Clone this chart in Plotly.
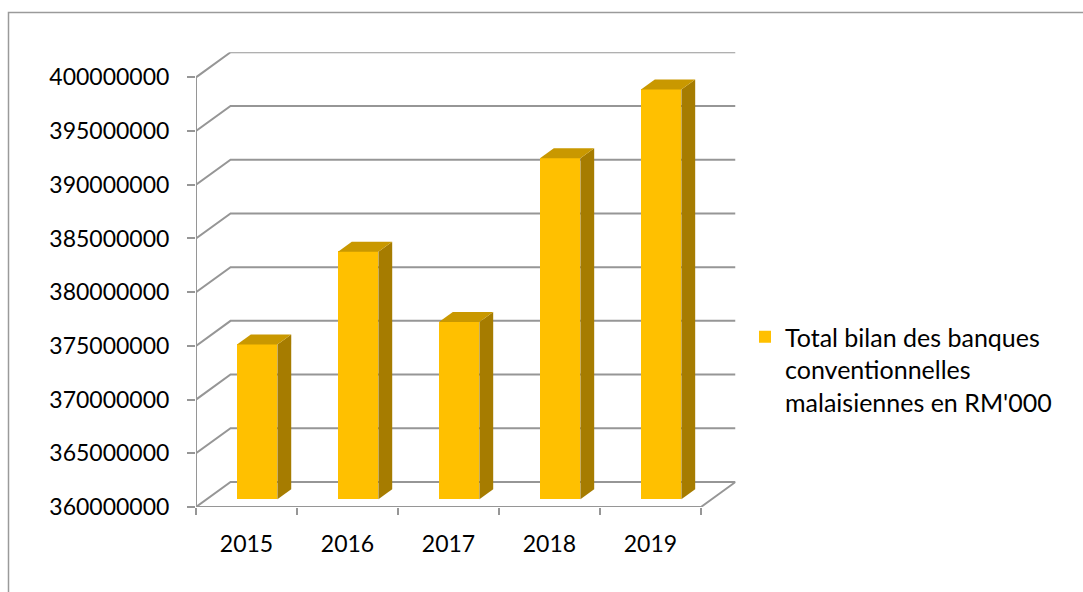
import plotly.graph_objects as go

# Data
years = ["2015", "2016", "2017", "2018", "2019"]
totals = [374.4e6, 383.05e6, 376.5e6, 391.75e6, 398.15e6]
y_ticks = [360e6 + 5e6 * k for k in range(9)]
series_name = "Total bilan des banques<br>conventionnelles<br>malaisiennes en RM'000"

# Oblique "3D" geometry (depth offset in axis units)
DX = 0.342          # horizontal shift of back wall, in category units
DY = 2.33e6         # vertical shift of back wall, in value units
F0, F1 = 0.31, 0.71  # depth fractions of bar front / back faces
BW = 0.40           # bar width in category units
BASE = 360e6
N = len(years)

FRONT = "#FFC000"
SIDE = "#A67C00"
TOP = "#C99800"
GRID = "#969696"

W, H = 1083, 592
px_left, px_right = 196, 735.5
px_bottom, px_top = 507, 52.3

fig = go.Figure()

# Front faces of the bars
xs = [i + F0 * DX for i in range(N)]
fig.add_trace(go.Bar(
    x=xs, y=[v - BASE for v in totals], base=[BASE + F0 * DY] * N,
    width=BW, marker=dict(color=FRONT, line=dict(width=0)),
    name=series_name, showlegend=True, hoverinfo="skip",
))

# Side and top faces
d = F1 - F0
for i, v in enumerate(totals):
    xl = xs[i] - BW / 2
    xr = xs[i] + BW / 2
    b = BASE + F0 * DY
    t = v + F0 * DY
    fig.add_trace(go.Scatter(
        x=[xr, xr + d * DX, xr + d * DX, xr, xr],
        y=[b, b + d * DY, t + d * DY, t, b],
        mode="lines", fill="toself", fillcolor=SIDE,
        line=dict(width=0, color=SIDE), showlegend=False, hoverinfo="skip",
    ))
    fig.add_trace(go.Scatter(
        x=[xl, xr, xr + d * DX, xl + d * DX, xl],
        y=[t, t, t + d * DY, t + d * DY, t],
        mode="lines", fill="toself", fillcolor=TOP,
        line=dict(width=0, color=TOP), showlegend=False, hoverinfo="skip",
    ))

# Walls, floor and gridlines (behind the bars)
x0, x1 = -0.5, N - 0.5
shapes = []
for v in y_ticks:
    shapes.append(dict(type="path", xref="x", yref="y", layer="below",
                       path=f"M {x0},{v} L {x0 + DX},{v + DY} L {x1 + DX},{v + DY}",
                       line=dict(color=GRID, width=2)))
# floor
shapes.append(dict(type="path", xref="x", yref="y", layer="below",
                   path=f"M {x0},{BASE} L {x1},{BASE} L {x1 + DX},{BASE + DY}",
                   line=dict(color=GRID, width=2)))
# front vertical axis
shapes.append(dict(type="line", xref="x", yref="y", layer="below",
                   x0=x0, x1=x0, y0=BASE, y1=y_ticks[-1],
                   line=dict(color=GRID, width=2)))
# chart frame
shapes.append(dict(type="rect", xref="paper", yref="paper",
                   x0=8.5 / W, x1=1.05, y0=-0.05, y1=1 - 12.5 / H,
                   line=dict(color="#9a9a9a", width=1.5), layer="below"))
fig.update_layout(shapes=shapes)

FONT = "Lato"
fig.update_layout(
    width=W, height=H,
    margin=dict(l=0, r=0, t=0, b=0, autoexpand=False),
    paper_bgcolor="white", plot_bgcolor="rgba(0,0,0,0)",
    font=dict(family=FONT, size=23, color="black"),
    xaxis=dict(
        domain=[px_left / W, px_right / W],
        range=[x0, x1 + DX], automargin=False,
        tickmode="array", tickvals=list(range(N)), ticktext=years,
        ticks="outside", ticklen=16, tickcolor="rgba(0,0,0,0)",
        minor=dict(tickmode="array", tickvals=[k - 0.5 for k in range(N + 1)],
                   ticks="outside", ticklen=7, tickwidth=2, tickcolor=GRID,
                   showgrid=False),
        showgrid=False, zeroline=False, showline=False, fixedrange=True,
        tickfont=dict(size=23),
    ),
    yaxis=dict(
        domain=[(H - px_bottom) / H, (H - px_top) / H],
        range=[BASE, y_ticks[-1] + DY], automargin=False,
        tickmode="array", tickvals=y_ticks, ticktext=[str(int(v)) for v in y_ticks],
        ticks="outside", ticklen=8, tickwidth=2, tickcolor=GRID,
        ticklabelstandoff=13,
        showgrid=False, zeroline=False, showline=False, fixedrange=True,
        tickfont=dict(size=23),
    ),
    legend=dict(
        x=745 / W, xanchor="left", y=1 - 314 / H, yanchor="top",
        valign="top", font=dict(size=25), bgcolor="rgba(0,0,0,0)",
        itemsizing="constant",
    ),
    showlegend=True,
    bargap=0,
)

fig.write_html("out.html")
